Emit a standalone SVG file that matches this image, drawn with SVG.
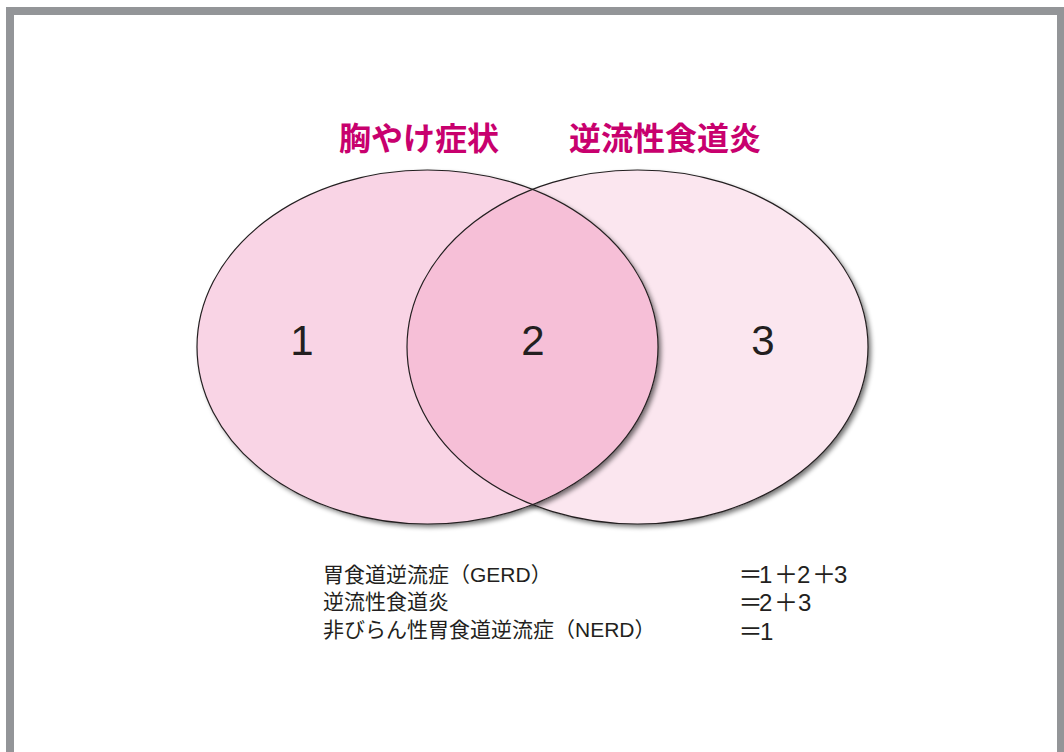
<svg xmlns="http://www.w3.org/2000/svg" width="1064" height="752" viewBox="0 0 1064 752">
<defs>
<style>
.title{font-family:"Noto Sans CJK JP",sans-serif;font-size:32px;font-weight:700;fill:#c8006e}
.num{font-family:"Liberation Sans",Arial,sans-serif;font-size:42px;fill:#231f20;text-anchor:middle}
.leg{font-family:"Liberation Sans","Noto Sans CJK JP",sans-serif;font-size:21px;fill:#231f20}
.eq{font-family:"Liberation Sans","Noto Sans CJK JP",sans-serif;font-size:24px;fill:#231f20}
.edge{fill:none;stroke:#231f20;stroke-width:1.2}
</style>
<filter id="sh" x="-10%" y="-10%" width="125%" height="125%">
<feGaussianBlur in="SourceAlpha" stdDeviation="2.5"/>
<feOffset dx="3" dy="3" result="b"/>
<feComponentTransfer><feFuncA type="linear" slope="0.55"/></feComponentTransfer>
<feMerge><feMergeNode/><feMergeNode in="SourceGraphic"/></feMerge>
</filter>
<clipPath id="clipL"><ellipse cx="427.5" cy="347" rx="230.5" ry="177"/></clipPath>
</defs>
<rect x="0" y="0" width="1064" height="752" fill="#ffffff"/>
<path d="M6 7H1064V752H6Z M14 15V752H1057V15Z" fill="#939598" fill-rule="evenodd"/>
<g id="set-reflux">
<ellipse cx="637.5" cy="347" rx="230.5" ry="177" fill="#fbe6ef" filter="url(#sh)"/>
</g>
<g id="set-heartburn">
<ellipse cx="427.5" cy="347" rx="230.5" ry="177" fill="#f9d4e5" filter="url(#sh)"/>
</g>
<g id="overlap">
<ellipse cx="637.5" cy="347" rx="230.5" ry="177" fill="#f6bfd7" clip-path="url(#clipL)"/>
</g>
<g id="outlines">
<ellipse class="edge" cx="427.5" cy="347" rx="230.5" ry="177"/>
<ellipse class="edge" cx="637.5" cy="347" rx="230.5" ry="177"/>
</g>
<g id="labels">
<text class="num" x="302" y="355">1</text>
<text class="num" x="533" y="355">2</text>
<text class="num" x="763" y="355">3</text>
<text class="title" x="339" y="150">胸やけ症状</text>
<text class="title" x="569" y="150">逆流性食道炎</text>
</g>
<g id="legend">
<text class="leg" x="323" y="582">胃食道逆流症（GERD）</text>
<text class="leg" x="323" y="609">逆流性食道炎</text>
<text class="leg" x="323" y="637">非びらん性胃食道逆流症（NERD）</text>
<text class="eq" x="738.5 759 774 797 812 834" y="583">＝1＋2＋3</text>
<text class="eq" x="738.5 759 774 798" y="611">＝2＋3</text>
<text class="eq" x="738.5 760" y="640">＝1</text>
</g>
</svg>
